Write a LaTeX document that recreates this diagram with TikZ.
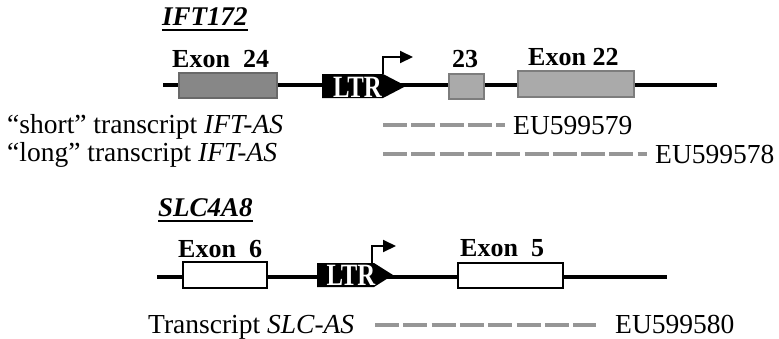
\documentclass[tikz,border=0pt]{standalone}
\usepackage{fontspec}
\setmainfont{Liberation Serif}
\usetikzlibrary{arrows.meta}
\definecolor{exdark}{RGB}{135,135,135}
\definecolor{exdarkline}{RGB}{105,105,105}
\definecolor{exlight}{RGB}{170,170,170}
\definecolor{exlightline}{RGB}{125,125,125}
\definecolor{dashgray}{RGB}{150,150,150}
\begin{document}
\begin{tikzpicture}[x=1pt,y=-1pt,
  gene/.style={line width=4pt},
  exonbox/.style={draw, line width=1.2pt, inner sep=0pt, minimum height=25pt},
  darkexon/.style={exonbox, fill=exdark, draw=exdarkline},
  lightexon/.style={exonbox, fill=exlight, draw=exlightline},
  whiteexon/.style={exonbox, fill=white, draw=black, line width=1.6pt},
  ltrshape/.style={fill=black},
  ltrtext/.style={text=white, inner sep=0pt, anchor=base, font=\fontsize{31}{31}\selectfont\bfseries},
  tss/.style={line width=2pt, -{Triangle[length=13pt,width=12pt]}},
  lbl/.style={inner sep=0pt, anchor=base west, font=\fontsize{26}{28}\selectfont\bfseries},
  title/.style={inner sep=0pt, anchor=base west, font=\fontsize{27}{29}\selectfont\bfseries\itshape},
  txt/.style={inner sep=0pt, anchor=base west, font=\fontsize{27.5}{29}\selectfont},
  transcript/.style={line width=4pt, draw=dashgray, dash pattern=on 24pt off 4.3pt},
  uline/.style={line width=1.3pt}
]
\useasboundingbox (0,0) rectangle (779,338);

% ---------- IFT172 ----------
\node[title] (t1) at (162,25) {IFT172};
\draw[uline] ([yshift=-5pt]t1.base west) -- ([yshift=-5pt]t1.base east);

\coordinate (g1s) at (163,85);
\coordinate (g1e) at (717,85);
\draw[gene] (g1s) -- (g1e);

\node[darkexon, minimum width=98pt] (e24) at (228,85.5) {};
\node[lightexon, minimum width=35pt] (e23) at (466.5,86.5) {};
\node[lightexon, minimum width=116pt, minimum height=26pt] (e22) at (576,84) {};

\node[lbl] (l24) at (172,67) {Exon\ \ 24};
\node[lbl] (l23) at (452,67) {23};
\node[lbl] (l22) at (528,65) {Exon 22};

\fill[ltrshape] (322,74) -- (383,74) -- (406,86) -- (383,98) -- (322,98) -- cycle;
\node[ltrtext] (ltr1) at (357.5,97) {\scalebox{0.8}[1]{LTR}};
\coordinate (tss1a) at (383,74);
\coordinate (tss1b) at (383,57);
\coordinate (tss1c) at (413,57);
\draw[tss] (tss1a) -- (tss1b) -- (tss1c);

\node[txt] (s1) at (7,133) {“short” transcript \textit{IFT-AS}};
\node[txt] (s2) at (7,161) {“long” transcript \textit{IFT-AS}};

\coordinate (d1s) at (383,125);
\coordinate (d1e) at (505,125);
\draw[transcript] (d1s) -- (d1e);
\node[txt] (a1) at (513,134) {EU599579};

\coordinate (d2s) at (383,154);
\coordinate (d2e) at (647,154);
\draw[transcript] (d2s) -- (d2e);
\node[txt] (a2) at (655,163) {EU599578};

% ---------- SLC4A8 ----------
\node[title] (t2) at (158,216) {SLC4A8};
\draw[uline] ([yshift=-5pt]t2.base west) -- ([yshift=-5pt]t2.base east);

\coordinate (g2s) at (157,277);
\coordinate (g2e) at (667,277);
\draw[gene] (g2s) -- (g2e);

\node[whiteexon, minimum width=84pt, minimum height=26pt] (e6) at (225,275) {};
\node[whiteexon, minimum width=105pt] (e5) at (510.5,275.5) {};

\node[lbl] (l6) at (178,257) {Exon\ \ 6};
\node[lbl] (l5) at (460,256) {Exon\ \ 5};

\fill[ltrshape] (317,263) -- (374,263) -- (393,275) -- (374,287) -- (317,287) -- cycle;
\node[ltrtext] (ltr2) at (351,285) {\scalebox{0.8}[1]{LTR}};
\coordinate (tss2a) at (372,263);
\coordinate (tss2b) at (372,246);
\coordinate (tss2c) at (396,246);
\draw[tss] (tss2a) -- (tss2b) -- (tss2c);

\node[txt] (s3) at (148,333) {Transcript \textit{SLC-AS}};
\coordinate (d3s) at (375,325);
\coordinate (d3e) at (596,325);
\draw[transcript] (d3s) -- (d3e);
\node[txt] (a3) at (615,333) {EU599580};
\end{tikzpicture}
\end{document}
